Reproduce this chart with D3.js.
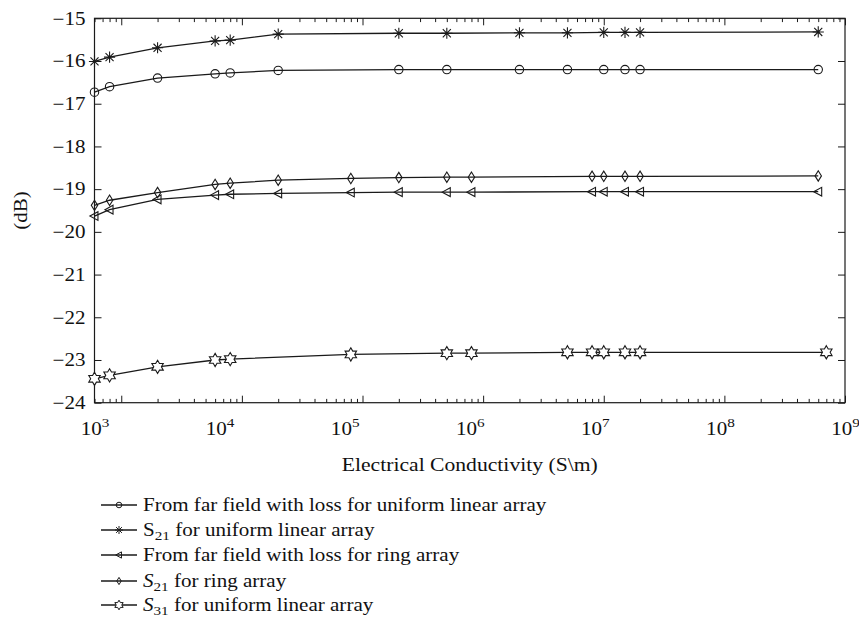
<!DOCTYPE html>
<html><head><meta charset="utf-8">
<script src="https://cdn.jsdelivr.net/npm/d3@7"></script>
<style>
html,body{margin:0;padding:0;background:#fff;}
text{font-family:"Liberation Serif","Times New Roman",serif;fill:#111;}
</style></head>
<body><svg id="chart" width="859" height="620"></svg>
<script>
// ---- data ----
const xTickValuesLabels = [1e3, 1e4, 1e5, 1e6, 1e7, 1e8, 1e9];
const yTickValues = [-24, -23, -22, -21, -20, -19, -18, -17, -16, -15];

const xULA = [600, 800, 2e3, 6e3, 8e3, 2e4, 2e5, 5e5, 2e6, 5e6, 1e7, 1.5e7, 2e7, 6e8];
const farFieldULA = [-16.73, -16.60, -16.40, -16.30, -16.28, -16.22, -16.20, -16.20, -16.20, -16.20, -16.20, -16.20, -16.20, -16.20];
const s21ULA = [-16.01, -15.91, -15.69, -15.53, -15.51, -15.37, -15.35, -15.35, -15.34, -15.34, -15.33, -15.33, -15.33, -15.32];

const xRing = [600, 800, 2e3, 6e3, 8e3, 2e4, 8e4, 2e5, 5e5, 8e5, 8e6, 1e7, 1.5e7, 2e7, 6e8];
const farFieldRing = [-19.63, -19.48, -19.24, -19.14, -19.12, -19.10, -19.08, -19.07, -19.07, -19.07, -19.06, -19.06, -19.06, -19.06, -19.06];
const s21Ring = [-19.38, -19.26, -19.08, -18.89, -18.86, -18.79, -18.75, -18.73, -18.72, -18.72, -18.70, -18.70, -18.70, -18.70, -18.69];

const xS31 = [600, 800, 2e3, 6e3, 8e3, 8e4, 5e5, 8e5, 5e6, 8e6, 1e7, 1.5e7, 2e7, 7e8];
const s31ULA = [-23.44, -23.36, -23.16, -23.00, -22.98, -22.87, -22.84, -22.84, -22.82, -22.82, -22.82, -22.82, -22.82, -22.82];

const seriesNames = [
  "From far field with loss for uniform linear array",
  "S21 for uniform linear array",
  "From far field with loss for ring array",
  "S21 for ring array",
  "S31 for uniform linear array"
];

// ---- layout ----
const L = 94.5, R = 845, T = 18.3, B = 402.7;
const svg = d3.select("#chart");
const x = d3.scaleLog().domain([600, 1e9]).range([L, R]);
const xLabel = d3.scaleLog().domain([1e3, 1e9]).range([L, R]);
const y = d3.scaleLinear().domain([-24, -15]).range([B, T]);
const ink = "#1a1a1a";
const SX = 1.17; // horizontal stretch of the original typesetting

// markers
const mk = {
  circle: r => `M${r},0A${r},${r} 0 1,1 ${-r},0A${r},${r} 0 1,1 ${r},0Z`,
  star: r => { const d = r*0.72; return `M0,${-r}V${r}M${-r},0H${r}M${-d},${-d}L${d},${d}M${-d},${d}L${d},${-d}`; },
  tri: r => `M${-r},0L${r*0.75},${-r*0.95}L${r*0.75},${r*0.95}Z`,
  diamond: r => `M0,${-r}L${r*0.62},0L0,${r}L${-r*0.62},0Z`,
  hex: r => { const p=[]; for(let i=0;i<12;i++){const a=-Math.PI/2+i*Math.PI/6; const rr = i%2===0? r : r*0.58; p.push([rr*Math.cos(a), rr*Math.sin(a)]);} return "M"+p.map(q=>q[0].toFixed(2)+","+q[1].toFixed(2)).join("L")+"Z"; }
};

const series = [
  {name: seriesNames[0], xs: xULA, ys: farFieldULA, m: "circle", r: 4.2, lr: 2.8, fill: "none"},
  {name: seriesNames[1], xs: xULA, ys: s21ULA, m: "star", r: 5.6, lr: 4, fill: "none"},
  {name: seriesNames[2], xs: xRing, ys: farFieldRing, m: "tri", r: 4.6, lr: 3.3, fill: "none"},
  {name: seriesNames[3], xs: xRing, ys: s21Ring, m: "diamond", r: 5.2, lr: 3.6, fill: "none"},
  {name: seriesNames[4], xs: xS31, ys: s31ULA, m: "hex", r: 6.6, lr: 4.8, fill: "#fff"}
];

// ---- axes ----
const allTicks = x.ticks();
const isMajor = v => Math.abs(Math.log10(v) - Math.round(Math.log10(v))) < 1e-9;
const minor = allTicks.filter(v => !isMajor(v));
const major = allTicks.filter(isMajor);

function xTicks(gen, ty, vals, size) {
  svg.append("g").attr("transform", `translate(0,${ty})`)
    .call(gen(x).tickValues(vals).tickSizeInner(-size).tickSizeOuter(0).tickFormat(""))
    .call(g => { g.select(".domain").remove(); g.selectAll("line").attr("stroke", ink).attr("stroke-width", 1); });
}
xTicks(d3.axisBottom, B, minor, 3.8);
xTicks(d3.axisBottom, B, major, 7);
xTicks(d3.axisTop, T, minor, 3.8);
xTicks(d3.axisTop, T, major, 7);

// y axis left with labels
svg.append("g").attr("transform", `translate(${L},0)`)
  .call(d3.axisLeft(y).tickValues(yTickValues).tickSizeInner(-7).tickSizeOuter(0).tickPadding(9)
        .tickFormat(d => "\u2212" + Math.abs(d)))
  .call(g => {
    g.select(".domain").remove();
    g.selectAll("line").attr("stroke", ink).attr("stroke-width", 1);
    g.selectAll("text").attr("font-size", 18).attr("font-family", '"Liberation Serif",serif')
      .attr("fill", ink).attr("x", -9/SX).attr("transform", `scale(${SX},1)`);
  });
svg.append("g").attr("transform", `translate(${R},0)`)
  .call(d3.axisRight(y).tickValues(yTickValues).tickSizeInner(-7).tickSizeOuter(0).tickFormat(""))
  .call(g => { g.select(".domain").remove(); g.selectAll("line").attr("stroke", ink).attr("stroke-width", 1); });

// x labels (evenly spaced decade labels as in the original)
svg.append("g").attr("transform", `translate(0,${B})`)
  .call(d3.axisBottom(xLabel).tickValues(xTickValuesLabels).tickSize(0).tickPadding(0).tickFormat(""))
  .call(g => {
    g.select(".domain").remove();
    g.selectAll(".tick").each(function(d) {
      const t = d3.select(this).append("text").attr("y", 32).attr("text-anchor", "middle")
        .attr("font-size", 18).attr("font-family", '"Liberation Serif",serif').attr("fill", ink)
        .attr("transform", `scale(${SX},1)`);
      t.append("tspan").text("10");
      t.append("tspan").attr("dy", -7.5).attr("font-size", 13).text(Math.round(Math.log10(d)));
    });
  });

// frame
svg.append("rect").attr("x", L).attr("y", T).attr("width", R - L).attr("height", B - T)
  .attr("fill", "none").attr("stroke", ink).attr("stroke-width", 1.2);

// axis titles
svg.append("g").attr("transform", `translate(${(L+R)/2},471) scale(${SX},1)`)
  .append("text").attr("text-anchor", "middle").attr("font-size", 18.5).attr("fill", ink)
  .text("Electrical Conductivity (S\\m)");
svg.append("g").attr("transform", `translate(27,${(T+B)/2}) rotate(-90) scale(${SX},1)`)
  .append("text").attr("text-anchor", "middle").attr("font-size", 18).attr("fill", ink)
  .text("(dB)");

// ---- series ----
const line = d3.line().x(d => x(d[0])).y(d => y(d[1]));
series.forEach(s => {
  const pts = s.xs.map((v, i) => [v, s.ys[i]]);
  svg.append("path").datum(pts).attr("d", line).attr("fill", "none")
    .attr("stroke", ink).attr("stroke-width", 1.3);
  svg.append("g").selectAll("path").data(pts).join("path")
    .attr("transform", d => `translate(${x(d[0])},${y(d[1])})`)
    .attr("d", mk[s.m](s.r)).attr("fill", s.fill).attr("stroke", ink).attr("stroke-width", 1.1);
});

// ---- legend ----
const legY = [505, 530, 555, 581, 605];
const lg = svg.append("g");
series.forEach((s, i) => {
  const gy = legY[i];
  lg.append("line").attr("x1", 101).attr("x2", 137).attr("y1", gy).attr("y2", gy)
    .attr("stroke", ink).attr("stroke-width", 1.3);
  lg.append("path").attr("transform", `translate(119,${gy})`).attr("d", mk[s.m](s.lr))
    .attr("fill", s.fill).attr("stroke", ink).attr("stroke-width", 1);
  const t = lg.append("g").attr("transform", `translate(143,${gy + 6}) scale(${SX},1)`)
    .append("text").attr("font-size", 18).attr("fill", ink);
  const m = s.name.match(/^S(\d\d)(.*)$/);
  if (m) {
    t.append("tspan").attr("font-style", i >= 3 ? "italic" : "normal").text("S");
    t.append("tspan").attr("dy", 3.5).attr("font-size", 13).text(m[1]);
    t.append("tspan").attr("dy", -3.5).text(m[2]);
  } else {
    t.text(s.name);
  }
});
</script>
</body></html>
